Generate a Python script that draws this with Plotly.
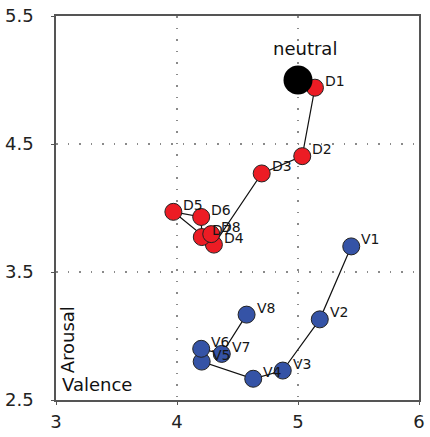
import plotly.graph_objects as go

# Emotion trajectories in valence/arousal space
d_labels = ["D1", "D2", "D3", "D4", "D5", "D6", "D7", "D8"]
d_valence = [5.14, 5.035, 4.70, 4.305, 3.97, 4.20, 4.205, 4.283]
d_arousal = [4.94, 4.405, 4.27, 3.714, 3.97, 3.93, 3.773, 3.796]

v_labels = ["V1", "V2", "V3", "V4", "V5", "V6", "V7", "V8"]
v_valence = [5.44, 5.18, 4.874, 4.63, 4.204, 4.20, 4.37, 4.575]
v_arousal = [3.70, 3.13, 2.73, 2.666, 2.80, 2.90, 2.86, 3.167]

neutral_label = "neutral"
neutral_valence = [5.0]
neutral_arousal = [5.0]

x_ticks = [3, 4, 5, 6]
y_ticks = [2.5, 3.5, 4.5, 5.5]

FONT = "DejaVu Sans"
RED = "#ec1c24"
BLUE = "#3553a6"

fig = go.Figure()

for xs, ys, col in [(d_valence, d_arousal, RED), (v_valence, v_arousal, BLUE)]:
    fig.add_trace(go.Scatter(
        x=xs, y=ys, mode="lines+markers",
        line=dict(color="#111111", width=1.2),
        marker=dict(size=17, color=col, line=dict(color="#222222", width=1)),
        showlegend=False, hoverinfo="skip",
    ))

fig.add_trace(go.Scatter(
    x=neutral_valence, y=neutral_arousal, mode="markers",
    marker=dict(size=29, color="#000000"),
    showlegend=False, hoverinfo="skip",
))

annotations = []
for names, xs, ys in [(d_labels, d_valence, d_arousal), (v_labels, v_valence, v_arousal)]:
    for n, x, y in zip(names, xs, ys):
        annotations.append(dict(
            x=x, y=y, text=n, showarrow=False, xanchor="left", yanchor="middle",
            xshift=8, yshift=7, font=dict(family=FONT, size=14, color="#161616"),
        ))

annotations.append(dict(
    x=neutral_valence[0], y=neutral_arousal[0], text=neutral_label, showarrow=False,
    xanchor="center", yanchor="middle", xshift=7, yshift=32,
    font=dict(family=FONT, size=18, color="#111111"),
))

# Axis names placed inside the plot corner
annotations.append(dict(
    xref="paper", yref="paper", x=0.012, y=0.04, text="Valence", showarrow=False,
    xanchor="left", yanchor="middle", font=dict(family=FONT, size=18, color="#111111"),
))
annotations.append(dict(
    xref="paper", yref="paper", x=0.031, y=0.156, text="Arousal", showarrow=False,
    textangle=-90, xanchor="center", yanchor="middle",
    font=dict(family=FONT, size=18, color="#111111"),
))

axis_common = dict(
    showgrid=True, gridcolor="#8a8a8a", gridwidth=1.5, griddash="1.5px,10px",
    showline=True, linecolor="#555555", linewidth=1.5, mirror=True,
    zeroline=False, ticks="outside", ticklen=3, tickcolor="#555555",
    tickfont=dict(family=FONT, size=18, color="#222222"),
)

fig.update_xaxes(range=[3, 6], tickvals=x_ticks, ticktext=[str(t) for t in x_ticks],
                 ticklabelstandoff=2, **axis_common)
fig.update_yaxes(range=[2.5, 5.5], tickvals=y_ticks, ticktext=[str(t) for t in y_ticks],
                 ticklabelstandoff=14, **axis_common)

fig.update_layout(
    width=430, height=437,
    margin=dict(l=52, r=5, t=15, b=31),
    plot_bgcolor="white", paper_bgcolor="white",
    annotations=annotations,
)

fig.write_html("out.html")
